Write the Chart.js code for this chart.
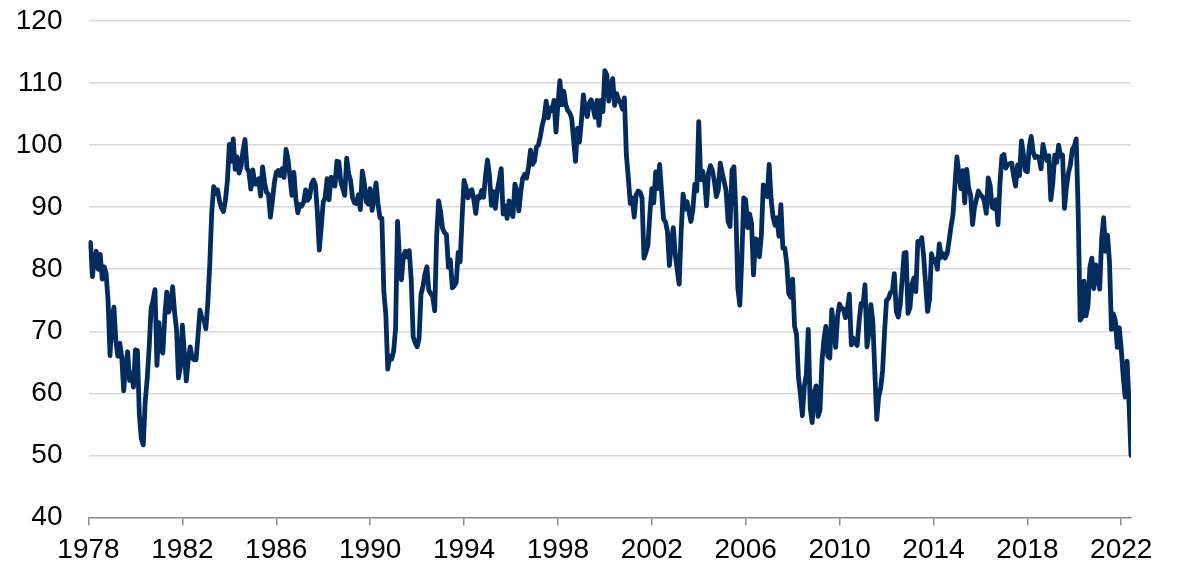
<!DOCTYPE html>
<html>
<head>
<meta charset="utf-8">
<script src="https://cdn.jsdelivr.net/npm/chart.js@4/dist/chart.umd.min.js"></script>
<style>
html,body{margin:0;padding:0;background:#fff;}
#wrap{width:1183px;height:567px;position:relative;}
</style>
</head>
<body>
<div id="wrap"><canvas id="c" width="1183" height="567"></canvas></div>
<script>
// Monthly index values, Jan 1978 – Jun 2022
const startYear = 1978;
const sentiment = [
// 1978
83.7,84.3,78.8,81.6,82.9,80.0,82.4,78.4,80.4,79.3,75.0,66.1,
// 1979
72.1,73.9,68.4,66.0,68.1,65.8,60.4,64.5,66.7,62.1,63.3,61.0,
// 1980
67.0,66.9,56.5,52.7,51.7,58.7,62.3,67.3,73.7,75.0,76.7,64.5,
// 1981
71.4,66.9,66.5,72.4,76.3,73.1,74.1,77.2,73.1,70.3,62.5,64.3,
// 1982
71.0,66.5,62.0,65.5,67.5,65.7,65.4,65.4,69.3,73.4,72.1,71.9,
// 1983
70.4,74.6,80.8,89.1,93.3,92.2,92.8,90.9,89.9,89.3,91.1,94.2,
// 1984
100.1,97.4,101.0,96.1,98.1,95.5,96.6,99.1,100.9,96.3,95.7,92.9,
// 1985
96.0,93.7,93.7,94.6,91.8,96.5,94.0,92.4,92.1,88.4,90.9,93.9,
// 1986
95.6,95.9,95.1,96.2,94.8,99.3,97.7,94.9,91.9,95.6,91.4,89.1,
// 1987
90.4,90.2,90.8,92.8,91.1,91.5,93.7,94.4,93.6,89.3,83.1,86.8,
// 1988
90.8,91.6,94.6,91.2,94.8,94.7,93.4,97.4,97.3,94.1,93.0,91.9,
// 1989
97.9,95.4,94.3,91.5,90.7,90.6,92.0,89.6,95.8,93.9,90.9,90.5,
// 1990
93.0,89.5,91.3,93.9,90.6,88.3,88.2,76.4,72.8,63.9,66.0,65.5,
// 1991
66.8,70.4,87.7,81.8,78.3,82.1,82.9,82.0,83.0,78.3,69.1,68.2,
// 1992
67.5,68.8,76.0,77.2,79.2,80.4,76.6,76.1,75.6,73.3,85.3,91.0,
// 1993
89.3,86.6,85.9,85.6,80.3,81.5,77.0,77.3,77.9,82.7,81.2,88.2,
// 1994
94.3,93.2,91.5,92.6,92.8,91.2,89.0,91.7,91.5,92.7,91.6,95.1,
// 1995
97.6,95.1,90.3,92.5,89.8,92.7,94.4,96.2,88.9,90.2,88.2,91.0,
// 1996
89.3,88.5,93.7,92.7,89.4,92.4,94.7,95.3,94.7,96.5,99.2,96.9,
// 1997
97.4,99.7,100.0,101.4,103.2,104.5,107.1,104.4,106.0,105.6,107.2,102.1,
// 1998
106.6,110.4,106.5,108.7,106.5,105.6,105.2,104.4,100.9,97.4,102.7,100.5,
// 1999
103.9,108.1,105.7,104.6,106.8,107.3,106.0,104.5,107.2,103.2,107.2,105.4,
// 2000
112.0,111.3,107.1,109.2,110.7,106.4,108.3,107.3,106.8,105.8,107.6,98.4,
// 2001
94.7,90.6,91.5,88.4,92.0,92.6,92.4,91.5,81.8,82.7,83.9,88.8,
// 2002
93.0,90.7,95.7,93.0,96.9,92.4,88.1,87.6,86.1,80.6,84.2,86.7,
// 2003
82.4,79.9,77.6,86.0,92.1,89.7,90.9,89.3,87.7,89.6,93.7,92.6,
// 2004
103.8,94.4,95.8,94.2,90.2,95.6,96.7,95.9,94.2,91.7,92.8,97.1,
// 2005
95.5,94.1,92.6,87.7,86.9,96.0,96.5,89.1,76.9,74.2,81.6,91.5,
// 2006
91.2,86.7,88.9,87.4,79.1,84.9,84.7,82.0,85.4,93.6,92.1,91.7,
// 2007
96.9,91.3,88.4,87.1,88.3,85.3,90.4,83.4,83.4,80.9,76.1,75.5,
// 2008
78.4,70.8,69.5,62.6,59.8,56.4,61.2,63.0,70.3,57.6,55.3,60.1,
// 2009
61.2,56.3,57.3,65.1,68.7,70.8,66.0,65.7,73.5,70.6,67.4,72.5,
// 2010
74.4,73.6,73.6,72.2,73.6,76.0,67.8,68.9,68.2,67.7,71.6,74.5,
// 2011
74.2,77.5,67.5,69.8,74.3,71.5,63.7,55.8,59.5,60.8,63.7,69.9,
// 2012
75.0,75.3,76.2,76.4,79.3,73.2,72.3,74.3,78.3,82.6,82.7,72.9,
// 2013
73.8,77.6,78.6,76.4,84.5,84.1,85.1,82.1,77.5,73.2,75.1,82.5,
// 2014
81.2,81.6,80.0,84.1,81.9,82.5,81.8,82.5,84.6,86.9,88.8,93.6,
// 2015
98.1,95.4,93.0,95.9,90.7,96.1,93.1,91.9,87.2,90.0,91.3,92.6,
// 2016
92.0,91.7,91.0,89.0,94.7,93.5,90.0,89.8,91.2,87.2,93.8,98.2,
// 2017
98.5,96.3,96.9,97.0,97.1,95.0,93.4,96.8,95.1,100.7,98.5,95.9,
// 2018
95.7,99.7,101.4,98.8,98.0,98.2,97.9,96.2,100.1,98.6,97.5,98.3,
// 2019
91.2,93.8,98.4,97.2,100.0,98.2,98.4,89.8,93.2,95.5,96.8,99.3,
// 2020
99.8,101.0,89.1,71.8,72.3,78.1,72.5,74.1,80.4,81.8,76.9,80.7,
// 2021
79.0,76.8,84.9,88.3,82.9,85.5,81.2,70.3,72.8,71.7,67.4,70.6,
// 2022
67.2,62.8,59.4,65.2,58.4,50.0
];
const tickYears = [1978,1982,1986,1990,1994,1998,2002,2006,2010,2014,2018,2022];
const yTicks = [40,50,60,70,80,90,100,110,120];

const points = sentiment.map((v,i)=>({x:i,y:v}));
const tickPos = tickYears.map(y => (y - startYear) * 12);

new Chart(document.getElementById('c'), {
  type: 'line',
  data: { datasets: [{
    data: points,
    borderColor: '#022c5e',
    borderWidth: 4.8,
    pointRadius: 0,
    tension: 0,
    borderJoinStyle: 'round',
    borderCapStyle: 'round',
    fill: false
  }]},
  options: {
    responsive: false,
    animation: false,
    events: [],
    layout: { padding: { top: 0, right: 52, left: 0, bottom: 0 } },
    plugins: { legend: { display: false }, tooltip: { enabled: false } },
    scales: {
      x: {
        type: 'linear',
        min: 0,
        max: sentiment.length - 1,
        afterBuildTicks: s => { s.ticks = tickPos.map(v => ({ value: v })); },
        afterFit: s => { s.height = 49.5; },
        ticks: {
          autoSkip: false,
          maxRotation: 0,
          padding: 8,
          color: '#000',
          font: { family: 'Liberation Sans, Arial, sans-serif', size: 28 },
          callback: v => String(startYear + v / 12)
        },
        grid: { display: true, drawOnChartArea: false, drawTicks: true, tickLength: 8, color: '#8a8a8a', lineWidth: 1.5 },
        border: { display: true, color: '#8a8a8a', width: 1.5 }
      },
      y: {
        min: 40,
        max: 120,
        afterBuildTicks: s => { s.ticks = yTicks.map(v => ({ value: v })); },
        afterFit: s => { s.width = 88.5; s.paddingTop = 21; },
        ticks: {
          padding: 26,
          color: '#000',
          font: { family: 'Liberation Sans, Arial, sans-serif', size: 28 }
        },
        grid: { drawTicks: false, color: ctx => ctx.tick && ctx.tick.value === 40 ? 'rgba(0,0,0,0)' : '#d9d9d9', lineWidth: 1.6 },
        border: { display: false }
      }
    }
  }
});
</script>
</body>
</html>
